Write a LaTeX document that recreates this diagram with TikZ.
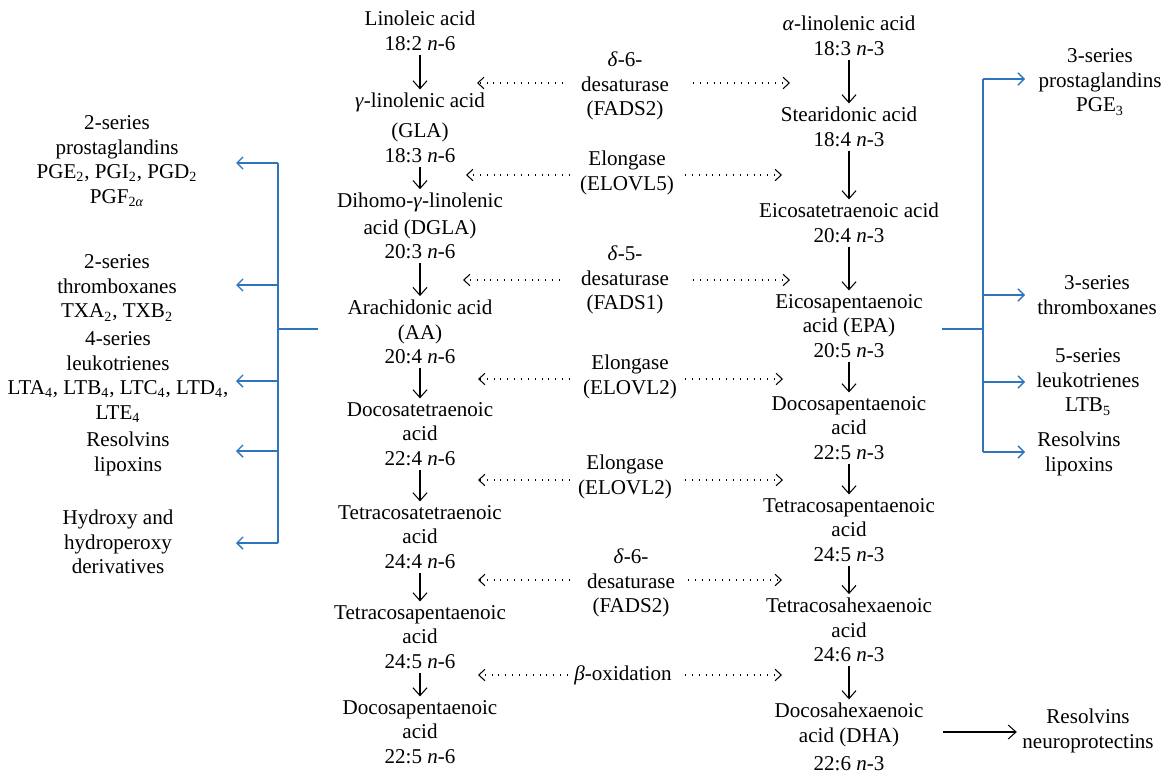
\documentclass[tikz,border=0pt]{standalone}
\usepackage{fontspec}
\setmainfont{Liberation Serif}
\usetikzlibrary{arrows.meta}
\definecolor{bracketblue}{RGB}{46,117,190}
\tikzset{
  txt/.style={align=center,inner sep=2pt,font=\fontsize{12}{14}\selectfont},
  flow/.style={-{Straight Barb[length=4.5pt,width=8pt]},line width=0.6pt},
  enz/.style={dash pattern=on 0.6pt off 3.3pt,line width=0.6pt,-{Straight Barb[length=3.5pt,width=6.5pt]}},
  brk/.style={bracketblue,line width=0.75pt},
  brka/.style={brk,-{Straight Barb[length=3.5pt,width=7pt]}}
}
\newcommand{\nn}{\textit{n}}
\begin{document}
\begin{tikzpicture}[x=0.02cm,y=-0.02cm]
\useasboundingbox (0,0) rectangle (1168,777);
% left column (n-6)
\node[txt] (L1) at (420,31) {Linoleic acid\\18:2 \nn-6};
\node[txt] (L2) at (420,128) {\textit{γ}-linolenic acid\\[3pt](GLA)\\18:3 \nn-6};
\node[txt] (L3) at (420,226) {Dihomo-\textit{γ}-linolenic\\[1pt]acid (DGLA)\\20:3 \nn-6};
\node[txt] (L4) at (420,332) {Arachidonic acid\\(AA)\\20:4 \nn-6};
\node[txt] (L5) at (420,434) {Docosatetraenoic\\acid\\22:4 \nn-6};
\node[txt] (L6) at (420,537) {Tetracosatetraenoic\\acid\\24:4 \nn-6};
\node[txt] (L7) at (420,637) {Tetracosapentaenoic\\acid\\24:5 \nn-6};
\node[txt] (L8) at (420,732) {Docosapentaenoic\\acid\\22:5 \nn-6};
% right column (n-3)
\node[txt] (R1) at (849,36) {\textit{α}-linolenic acid\\18:3 \nn-3};
\node[txt] (R2) at (849,127) {Stearidonic acid\\18:4 \nn-3};
\node[txt] (R3) at (849,223) {Eicosatetraenoic acid\\20:4 \nn-3};
\node[txt] (R4) at (849,326) {Eicosapentaenoic\\acid (EPA)\\20:5 \nn-3};
\node[txt] (R5) at (849,428) {Docosapentaenoic\\acid\\22:5 \nn-3};
\node[txt] (R6) at (849,530) {Tetracosapentaenoic\\acid\\24:5 \nn-3};
\node[txt] (R7) at (849,630) {Tetracosahexaenoic\\acid\\24:6 \nn-3};
\node[txt] (R8) at (849,737) {Docosahexaenoic\\acid (DHA)\\[2pt]22:6 \nn-3};
% enzymes
\node[txt] (M1) at (625,86) {\textit{δ}-6-\\desaturase\\(FADS2)};
\node[txt] (M2) at (627,173) {Elongase\\(ELOVL5)};
\node[txt] (M3) at (625,280) {\textit{δ}-5-\\desaturase\\(FADS1)};
\node[txt] (M4) at (630,377) {Elongase\\(ELOVL2)};
\node[txt] (M5) at (625,477) {Elongase\\(ELOVL2)};
\node[txt] (M6) at (631,583) {\textit{δ}-6-\\desaturase\\(FADS2)};
\node[txt] (M7) at (623,675) {\textit{β}-oxidation};
% left products
\node[txt] (B1) at (117,161) {2-series\\prostaglandins\\PGE\textsubscript{2}, PGI\textsubscript{2}, PGD\textsubscript{2}\\PGF\textsubscript{2\textit{α}}};
\node[txt] (B2) at (117,288) {2-series\\thromboxanes\\TXA\textsubscript{2}, TXB\textsubscript{2}};
\node[txt] (B3) at (118,377) {4-series\\leukotrienes\\LTA\textsubscript{4}, LTB\textsubscript{4}, LTC\textsubscript{4}, LTD\textsubscript{4},\\LTE\textsubscript{4}};
\node[txt] (B4) at (128,454) {Resolvins\\lipoxins};
\node[txt] (B5) at (118,542) {Hydroxy and\\hydroperoxy\\derivatives};
% right products
\node[txt] (C1) at (1100,82) {3-series\\prostaglandins\\PGE\textsubscript{3}};
\node[txt] (C2) at (1097,295) {3-series\\thromboxanes};
\node[txt] (C3) at (1088,382) {5-series\\leukotrienes\\LTB\textsubscript{5}};
\node[txt] (C4) at (1079,454) {Resolvins\\lipoxins};
\node[txt] (D1) at (1088,731) {Resolvins\\neuroprotectins};
% vertical flow arrows
\foreach \a/\b in {L1/L2,L2/L3,L3/L4,L4/L5,L5/L6,L6/L7,L7/L8,R1/R2,R2/R3,R3/R4,R4/R5,R5/R6,R6/R7,R7/R8}
  \draw[flow] (\a.south) -- (\a.south |- \b.north);
% dotted enzyme arrows: coordinates of starts and tips
\foreach \i/\y/\ls/\lt/\rs/\rt in {1/83/563/477/693/790,2/175/570/466/685/782,3/280/560/463/693/790,4/379/570/478/685/783,5/480/570/478/685/783,6/580/570/478/688/782,7/675/568/478/685/782}{
  \coordinate (ls\i) at (\ls,\y);
  \coordinate (lt\i) at (\lt,\y);
  \coordinate (rs\i) at (\rs,\y);
  \coordinate (rt\i) at (\rt,\y);
  \draw[enz] (ls\i) -- (lt\i);
  \draw[enz] (rs\i) -- (rt\i);
}
% left bracket
\coordinate (lbt) at (278,163);
\coordinate (lbb) at (278,543);
\coordinate (lbs) at (318,329);
\draw[brk] (lbt) -- (lbb);
\draw[brk] (lbs) -- (lbs -| lbt);
\foreach \y in {163,285,381,451,543}{
  \coordinate (lbx) at (278,\y);
  \coordinate (lby) at (236,\y);
  \draw[brka] (lbx) -- (lby);
}
% right bracket
\coordinate (rbt) at (983,79);
\coordinate (rbb) at (983,452);
\coordinate (rbs) at (942,329);
\draw[brk] (rbt) -- (rbb);
\draw[brk] (rbs) -- (rbs -| rbt);
\foreach \y in {79,295,382,452}{
  \coordinate (rbx) at (983,\y);
  \coordinate (rby) at (1025,\y);
  \draw[brka] (rbx) -- (rby);
}
% DHA to resolvins
\coordinate (dhs) at (943,732);
\draw[flow] (dhs) -- ([xshift=-1pt]dhs -| D1.west);
\end{tikzpicture}
\end{document}
